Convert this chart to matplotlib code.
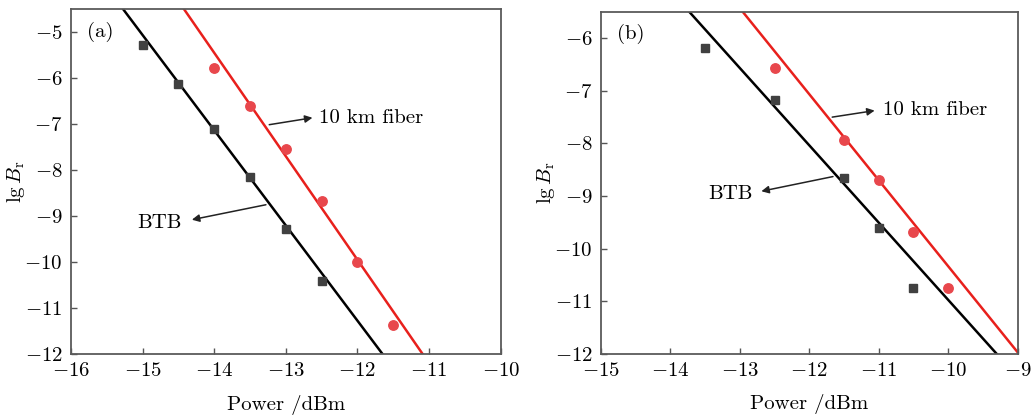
import numpy as np
import matplotlib
matplotlib.use("Agg")
import matplotlib.pyplot as plt

plt.rcParams["font.family"] = "serif"
plt.rcParams["font.serif"] = ["cmr10", "DejaVu Serif"]
plt.rcParams["mathtext.fontset"] = "cm"
plt.rcParams["axes.formatter.use_mathtext"] = True

# panel (a) measured points
pa_btb_x = [-15.0, -14.5, -14.0, -13.5, -13.0, -12.5]
pa_btb_y = [-5.28, -6.12, -7.10, -8.15, -9.28, -10.42]
pa_fib_x = [-14.0, -13.5, -13.0, -12.5, -12.0, -11.5]
pa_fib_y = [-5.78, -6.60, -7.53, -8.67, -10.00, -11.37]
# panel (a) fitted lines (end points)
pa_btb_fit_x = [-15.27, -11.65]
pa_btb_fit_y = [-4.5, -12.0]
pa_fib_fit_x = [-14.42, -11.09]
pa_fib_fit_y = [-4.5, -12.0]

# panel (b) measured points
pb_btb_x = [-13.5, -12.5, -11.5, -11.0, -10.5]
pb_btb_y = [-6.18, -7.18, -8.66, -9.60, -10.75]
pb_fib_x = [-12.5, -11.5, -11.0, -10.5, -10.0]
pb_fib_y = [-6.56, -7.94, -8.69, -9.69, -10.75]
# panel (b) fitted lines (end points)
pb_btb_fit_x = [-13.73, -9.30]
pb_btb_fit_y = [-5.5, -12.0]
pb_fib_fit_x = [-12.96, -8.98]
pb_fib_fit_y = [-5.5, -12.0]

RED_LINE = "#e8201c"
RED_DOT = "#e8474c"
GRAY_SQ = "#404040"
FS = 15

fig = plt.figure(figsize=(10.36, 4.16), dpi=100)
ax1 = fig.add_axes([0.0685, 0.149, 0.4148, 0.8286])
ax2 = fig.add_axes([0.5801, 0.149, 0.4022, 0.8229])


def style(ax, xlim, ylim, xticks, yticks, ylab_x):
    ax.set_xlim(*xlim)
    ax.set_ylim(*ylim)
    ax.set_xticks(xticks)
    ax.set_yticks(yticks)
    ax.tick_params(direction="in", length=4, width=1.0, color="#555555",
                   labelsize=FS, pad=6, top=False, right=False)
    for s in ax.spines.values():
        s.set_color("#5a5a5a")
        s.set_linewidth(1.3)
    ax.set_xlabel("Power /dBm", fontsize=FS)
    ax.set_ylabel(r"lg$\,B_\mathrm{r}$", fontsize=FS)
    ax.xaxis.set_label_coords(0.5, -0.118)
    ax.yaxis.set_label_coords(ylab_x, 0.5)


def draw(ax, bx, by, fx, fy, bfx, bfy, ffx, ffy):
    ax.plot(bfx, bfy, color="black", lw=1.8, zorder=2)
    ax.plot(ffx, ffy, color=RED_LINE, lw=1.8, zorder=2)
    ax.plot(bx, by, ls="none", marker="s", ms=6.2, color=GRAY_SQ, zorder=3)
    ax.plot(fx, fy, ls="none", marker="o", ms=6.8, color=RED_DOT, zorder=3)


arrow = dict(arrowstyle="-|>", color="#222222", lw=1.1, mutation_scale=11)

draw(ax1, pa_btb_x, pa_btb_y, pa_fib_x, pa_fib_y,
     pa_btb_fit_x, pa_btb_fit_y, pa_fib_fit_x, pa_fib_fit_y)
style(ax1, (-16, -10), (-12, -4.5), range(-16, -9), range(-12, -4), -0.102)
ax1.text(-15.59, -5.0, "(a)", fontsize=FS, ha="center", va="center")
ax1.annotate("", xy=(-12.59, -6.85), xytext=(-13.27, -7.02), arrowprops=arrow)
ax1.text(-12.53, -6.86, "10 km fiber", fontsize=FS, ha="left", va="center")
ax1.annotate("", xy=(-14.35, -9.09), xytext=(-13.24, -8.74), arrowprops=arrow)
ax1.text(-14.77, -9.14, "BTB", fontsize=FS, ha="center", va="center")

draw(ax2, pb_btb_x, pb_btb_y, pb_fib_x, pb_fib_y,
     pb_btb_fit_x, pb_btb_fit_y, pb_fib_fit_x, pb_fib_fit_y)
style(ax2, (-15, -9), (-12, -5.5), range(-15, -8), range(-12, -5), -0.106)
ax2.text(-14.57, -5.92, "(b)", fontsize=FS, ha="center", va="center")
ax2.annotate("", xy=(-11.02, -7.37), xytext=(-11.71, -7.51), arrowprops=arrow)
ax2.text(-10.94, -7.36, "10 km fiber", fontsize=FS, ha="left", va="center")
ax2.annotate("", xy=(-12.73, -8.92), xytext=(-11.62, -8.62), arrowprops=arrow)
ax2.text(-13.13, -8.97, "BTB", fontsize=FS, ha="center", va="center")

fig.savefig("out.png", dpi=100)
